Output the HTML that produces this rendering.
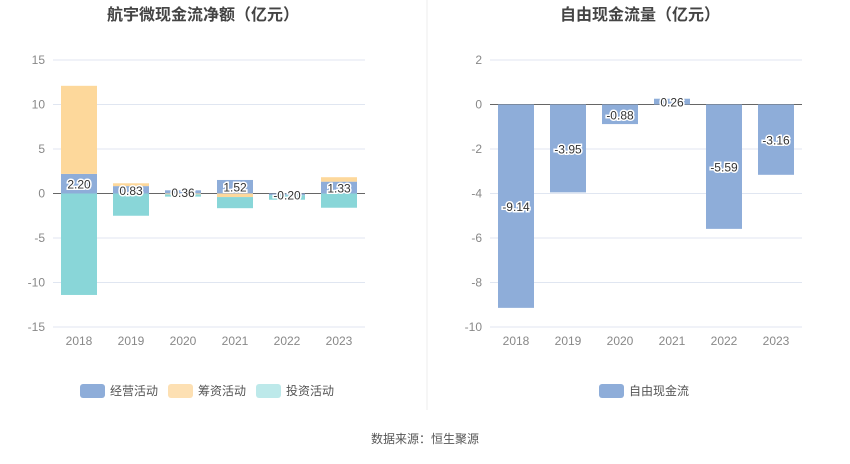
<!DOCTYPE html>
<html><head><meta charset="utf-8"><style>
body{margin:0;background:#fff;width:850px;height:459px;overflow:hidden;font-family:"Liberation Sans","Noto Sans CJK SC",sans-serif}
</style></head><body>
<svg id="s" width="850" height="459" xmlns="http://www.w3.org/2000/svg" font-family="Liberation Sans, Noto Sans CJK SC, sans-serif">
<text x="203" y="20" text-anchor="middle" font-size="16" font-weight="bold" fill="#444">航宇微现金流净额（亿元）</text>
<text x="640" y="20" text-anchor="middle" font-size="16" font-weight="bold" fill="#444">自由现金流量（亿元）</text>
<line x1="427" y1="0" x2="427" y2="410" stroke="#eee"/>
<g id="L"></g><g id="R"></g>
<g><rect x="80" y="384" width="25" height="14" rx="3" fill="#8eadd9"/><text x="110" y="395" font-size="12" fill="#555">经营活动</text></g>
<g><rect x="168" y="384" width="25" height="14" rx="3" fill="#fde0b3"/><text x="198" y="395" font-size="12" fill="#555">筹资活动</text></g>
<g><rect x="256" y="384" width="25" height="14" rx="3" fill="#bde9ea"/><text x="286" y="395" font-size="12" fill="#555">投资活动</text></g>
<g><rect x="599" y="384" width="25" height="14" rx="3" fill="#8eadd9"/><text x="629" y="395" font-size="12" fill="#555">自由现金流</text></g>
<text x="425" y="443" text-anchor="middle" font-size="12" fill="#555">数据来源：恒生聚源</text>
</svg>
<script>
const years=["2018","2019","2020","2021","2022","2023"];
const operating=[2.20,0.83,0.36,1.52,-0.20,1.33];
const financing=[9.9,0.32,-0.1,-0.4,0,0.5];
const investing=[-11.4,-2.5,-0.25,-1.25,-0.5,-1.6];
const fcf=[-9.14,-3.95,-0.88,0.26,-5.59,-3.16];
const leftTicks=[15,10,5,0,-5,-10,-15];
const rightTicks=[2,0,-2,-4,-6,-8,-10];
const NS="http://www.w3.org/2000/svg";
function mk(p,t,a){const e=document.createElementNS(NS,t);for(const k in a)e.setAttribute(k,a[k]);p.appendChild(e);return e;}
function axis(g,x0,x1,ymax,ymin,ticks,pre){
  const y=v=>60+(ymax-v)/(ymax-ymin)*267;
  const x=i=>x0+(x1-x0)/years.length*(i+0.5);
  ticks.forEach(t=>{const l=mk(g,'line',{x1:x0,x2:x1,y1:y(t),y2:y(t),stroke:t===0?'#666':'#e0e6f1'});
    
    const tx=mk(g,'text',{x:x0-8,y:y(t)+4,'text-anchor':'end','font-size':12,fill:'#888'});tx.textContent=t;
    });
  years.forEach((yr,i)=>{const tx=mk(g,'text',{x:x(i),y:345,'text-anchor':'middle','font-size':12,fill:'#888'});tx.textContent=yr;
    });
  return {x,y};
}
const L=document.getElementById('L');
const a=axis(L,53,365,15,-15,leftTicks,'left-');
const series=[[operating,'#8eadd9','operating'],[financing,'#fdd89b','financing'],[investing,'#89d6d8','investing']];
years.forEach((yr,i)=>{let pos=0,neg=0;
  series.forEach(([d,c,n])=>{const v=d[i];let b0,b1;
    if(v>=0){b0=pos;b1=pos+v;pos=b1;}else{b0=neg;b1=neg+v;neg=b1;}
    const r=mk(L,'rect',{x:a.x(i)-18,width:36,y:Math.min(a.y(b0),a.y(b1)),height:Math.abs(a.y(b1)-a.y(b0)),fill:c});
    });
  const v=operating[i];const t=mk(L,'text',{x:a.x(i),y:a.y(v/2)+5,'text-anchor':'middle','font-size':12,fill:'#333',stroke:'#fff','stroke-width':3,'paint-order':'stroke'});
  t.textContent=v.toFixed(2);
});
const R=document.getElementById('R');
const b=axis(R,490,802,2,-10,rightTicks,'right-');
years.forEach((yr,i)=>{const v=fcf[i];
  const r=mk(R,'rect',{x:b.x(i)-18,width:36,y:Math.min(b.y(0),b.y(v)),height:Math.abs(b.y(v)-b.y(0)),fill:'#8eadd9'});
  
  const t=mk(R,'text',{x:b.x(i),y:b.y(v/2)+5,'text-anchor':'middle','font-size':12,fill:'#333',stroke:'#fff','stroke-width':3,'paint-order':'stroke'});
  t.textContent=v.toFixed(2);
});
</script>
</body></html>
